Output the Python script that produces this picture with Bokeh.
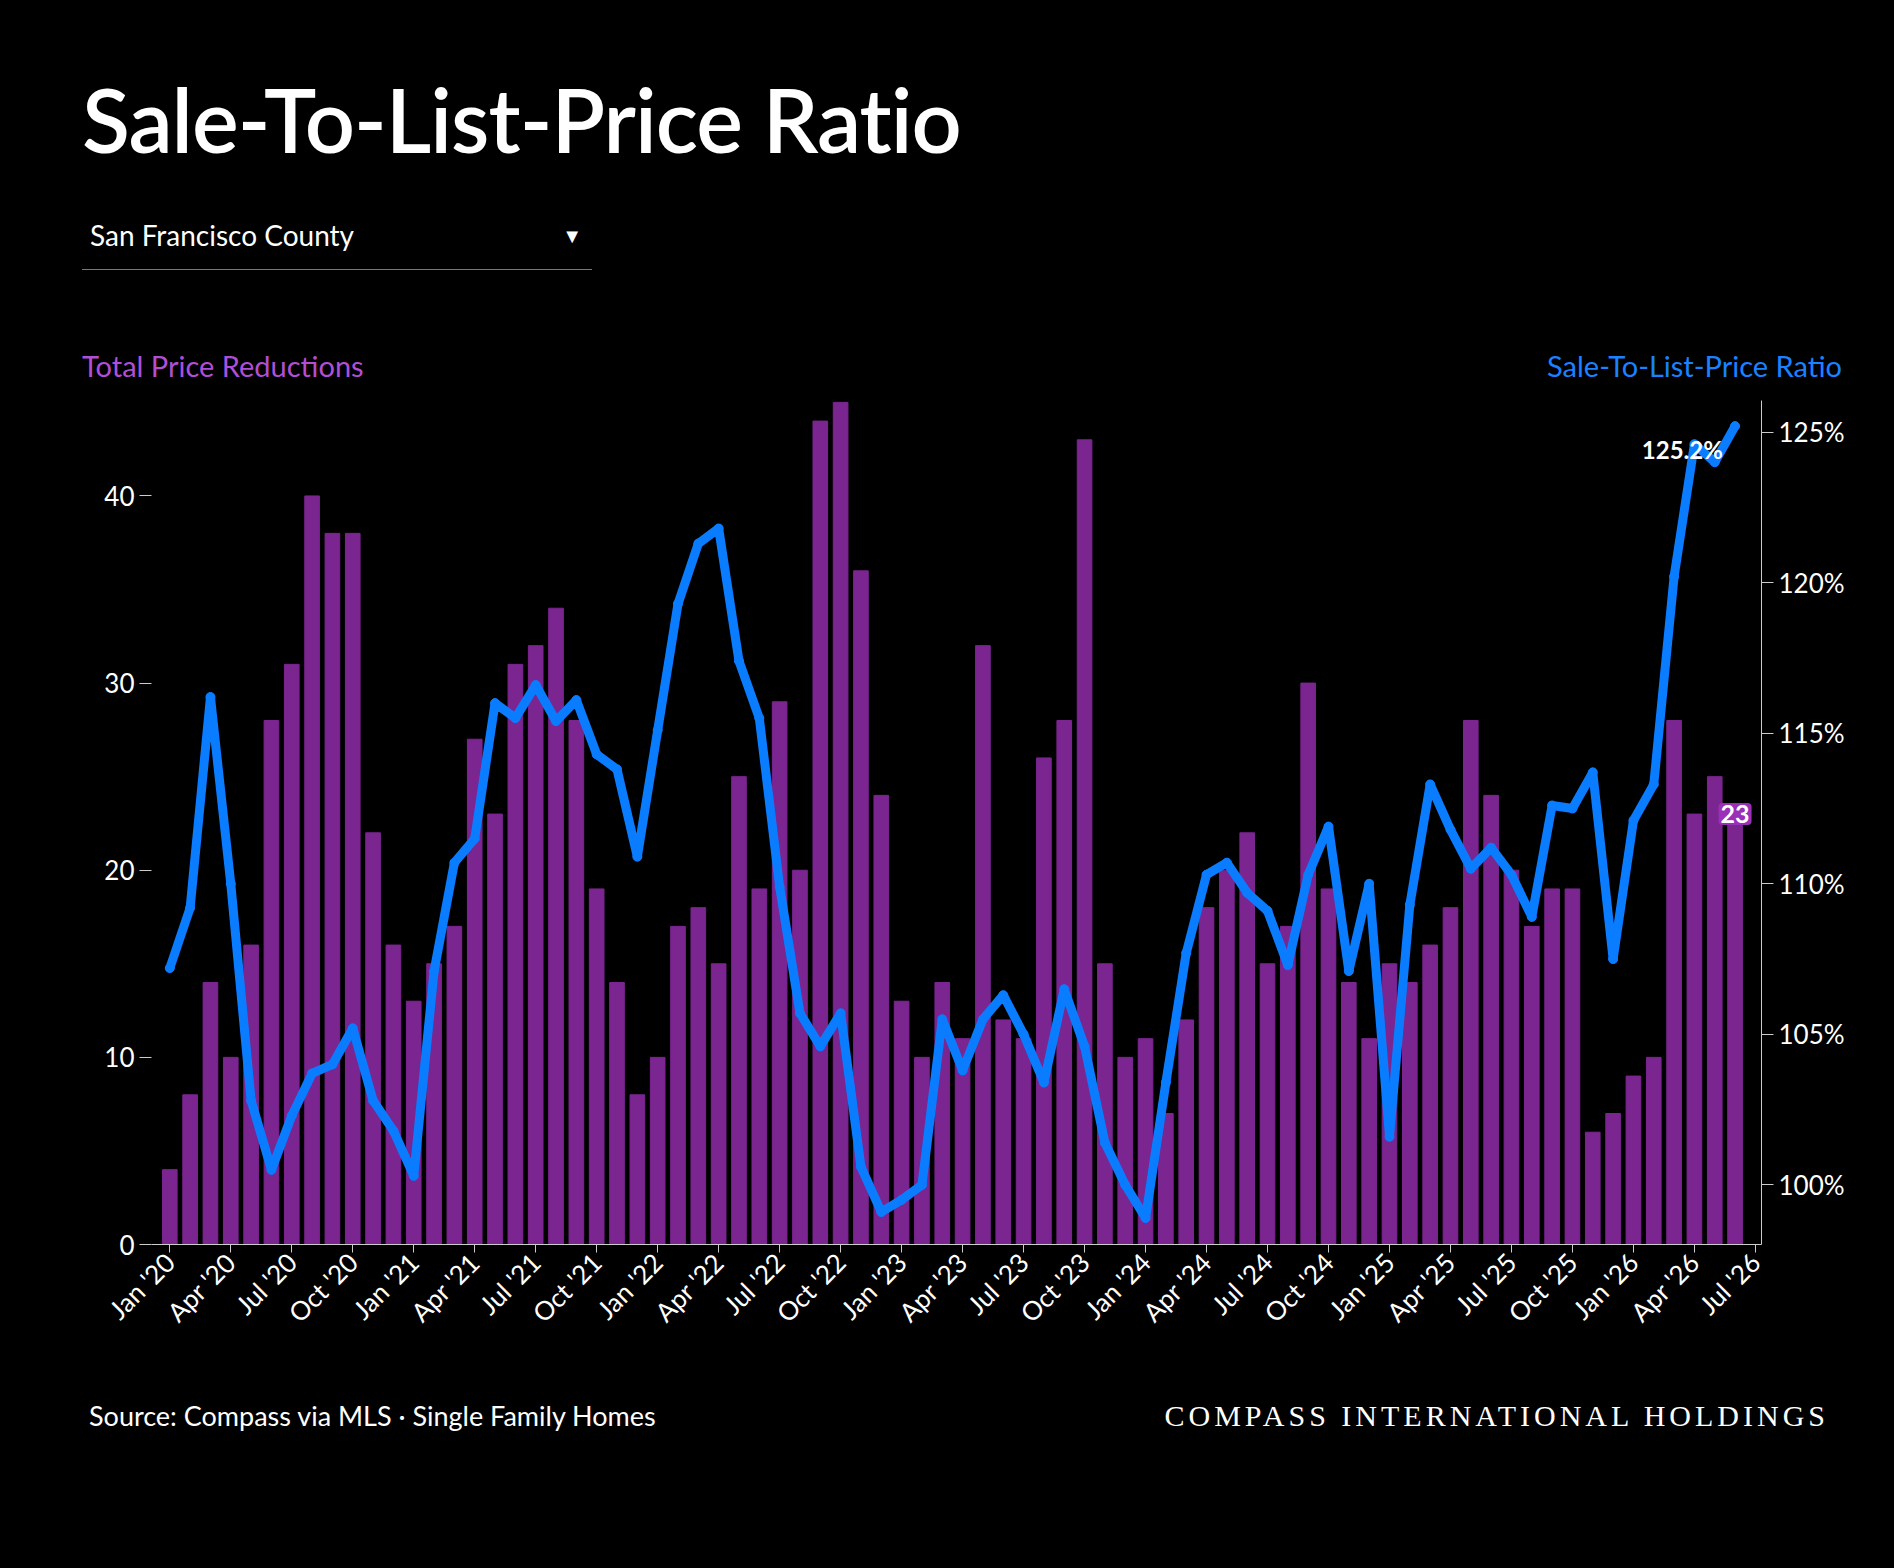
from bokeh.plotting import figure
from bokeh.models import Range1d, LinearAxis, FixedTicker, Label, Div, ColumnDataSource
from bokeh.layouts import column
from bokeh.embed import file_html
from bokeh.resources import INLINE

reductions = [4,8,14,10,16,28,31,40,38,38,22,16,
              13,15,17,27,23,31,32,34,28,19,14,8,
              10,17,18,15,25,19,29,20,44,45,36,24,
              13,10,14,11,32,12,11,26,28,43,15,10,
              11,7,12,18,20,22,15,17,30,19,14,11,
              15,14,16,18,28,24,20,17,19,19,6,7,
              9,10,28,23,25,23]
ratio = [107.2,109.2,116.2,110.0,102.8,100.5,102.3,103.7,104.0,105.2,102.8,101.8,
         100.3,107.1,110.7,111.5,116.0,115.5,116.6,115.4,116.1,114.3,113.8,110.9,
         115.1,119.3,121.3,121.8,117.4,115.5,109.9,105.7,104.6,105.7,100.6,99.1,
         99.5,100.0,105.5,103.8,105.5,106.3,105.0,103.4,106.5,104.6,101.4,100.0,
         98.9,103.4,107.7,110.3,110.7,109.7,109.1,107.3,110.3,111.9,107.1,110.0,
         101.6,109.3,113.3,111.8,110.5,111.2,110.3,108.9,112.6,112.5,113.7,107.5,
         112.1,113.3,120.2,124.6,124.0,125.2]
months = ["Jan","Apr","Jul","Oct"]
tick_labels = {}
for i in range(0, 79, 3):
    tick_labels[i] = f"{months[(i//3)%4]} '{20 + i//12}"

idx = list(range(len(reductions)))
src = ColumnDataSource(dict(x=idx, r=reductions, s=ratio))

FONT = "Lato"
BG = "#000000"
W = 1884

title = Div(text="Sale-To-List-Price Ratio", width=W, height=150,
            styles={"font-family": "Lato", "font-size": "88px", "font-weight": "600",
                    "color": "white", "padding-left": "77px", "padding-top": "70px",
                    "letter-spacing": "-1px", "background": BG, "line-height": "1"})
dropdown = Div(text="<div style='display:flex;justify-content:space-between;align-items:center;width:510px;border-bottom:1px solid #777;padding:6px 10px 14px 8px'><span>San Francisco County</span><span style='font-size:20px'>&#9660;</span></div>",
               width=W, height=160,
               styles={"font-family": "Lato", "font-size": "28px", "color": "white",
                       "padding-left": "77px", "padding-top": "44px", "background": BG})
heads = Div(text="<div style='display:flex;justify-content:space-between;width:1760px'><span style='color:#b04fd6'>Total Price Reductions</span><span style='color:#1a82ff'>Sale-To-List-Price Ratio</span></div>",
            width=W, height=60,
            styles={"font-family": "Lato", "font-size": "29px", "padding-left": "77px",
                    "padding-top": "10px", "background": BG})

p = figure(width=W, height=984, output_backend="svg", toolbar_location=None,
           x_range=Range1d(-0.9, 78.3), y_range=Range1d(0, 45.1),
           background_fill_color=BG, border_fill_color=BG, outline_line_color=None,
           min_border_left=151, min_border_right=123, min_border_top=0, min_border_bottom=140)
p.grid.visible = False
p.extra_y_ranges = {"r": Range1d(98.02, 126.05)}

p.vbar(x="x", top="r", width=0.72, source=src, color="#7b2590")
p.line(x="x", y="s", source=src, y_range_name="r", line_color="#0a7cff",
       line_width=9, line_join="round", line_cap="round")
p.scatter(x="x", y="s", source=src, y_range_name="r", size=9, color="#0a7cff")

def style(ax):
    ax.axis_line_color = "#cccccc"
    ax.major_tick_line_color = "#cccccc"
    ax.minor_tick_line_color = None
    ax.major_label_text_color = "white"
    ax.major_label_text_font = FONT
    ax.major_label_text_font_size = "26px"

p.yaxis.ticker = FixedTicker(ticks=[0, 10, 20, 30, 40])
style(p.yaxis[0])
p.yaxis.axis_line_color = None
p.yaxis.major_tick_in = 0
p.yaxis.major_tick_out = 12

ra = LinearAxis(y_range_name="r", ticker=FixedTicker(ticks=[100, 105, 110, 115, 120, 125]),
                major_label_overrides={v: f"{v}%" for v in [100, 105, 110, 115, 120, 125]})
style(ra)
ra.major_tick_in = 0
ra.major_tick_out = 12
p.add_layout(ra, "right")

p.xaxis.ticker = FixedTicker(ticks=list(tick_labels.keys()))
p.xaxis.major_label_overrides = tick_labels
p.xaxis.major_label_orientation = 0.785
style(p.xaxis[0])
p.xaxis.major_tick_in = 0
p.xaxis.major_tick_out = 8

p.add_layout(Label(x=idx[-1] - 0.6, y=ratio[-1] - 0.3, y_range_name="r", text=f"{ratio[-1]}%",
                   text_align="right", text_baseline="top", text_color="white",
                   text_font=FONT, text_font_size="24px", text_font_style="bold"))
p.add_layout(Label(x=idx[-1], y=reductions[-1], text=str(reductions[-1]),
                   text_align="center", text_baseline="middle", text_color="white",
                   text_font=FONT, text_font_size="25px", text_font_style="bold",
                   background_fill_color="#9a2fb8", border_radius=4,
                   padding=2))

footer = Div(text="<div style='display:flex;justify-content:space-between;width:1740px;align-items:center'><span>Source: Compass via MLS · Single Family Homes</span><span style='font-family:\"Liberation Serif\";letter-spacing:4px;font-size:30px'>COMPASS INTERNATIONAL HOLDINGS</span></div>",
             width=W, height=200,
             styles={"font-family": "Lato", "font-size": "27px", "color": "white",
                     "padding-left": "84px", "padding-top": "6px", "background": BG})

layout = column(title, dropdown, heads, p, footer, spacing=0, styles={"background": BG})
open("out.html", "w").write(file_html(layout, INLINE))
